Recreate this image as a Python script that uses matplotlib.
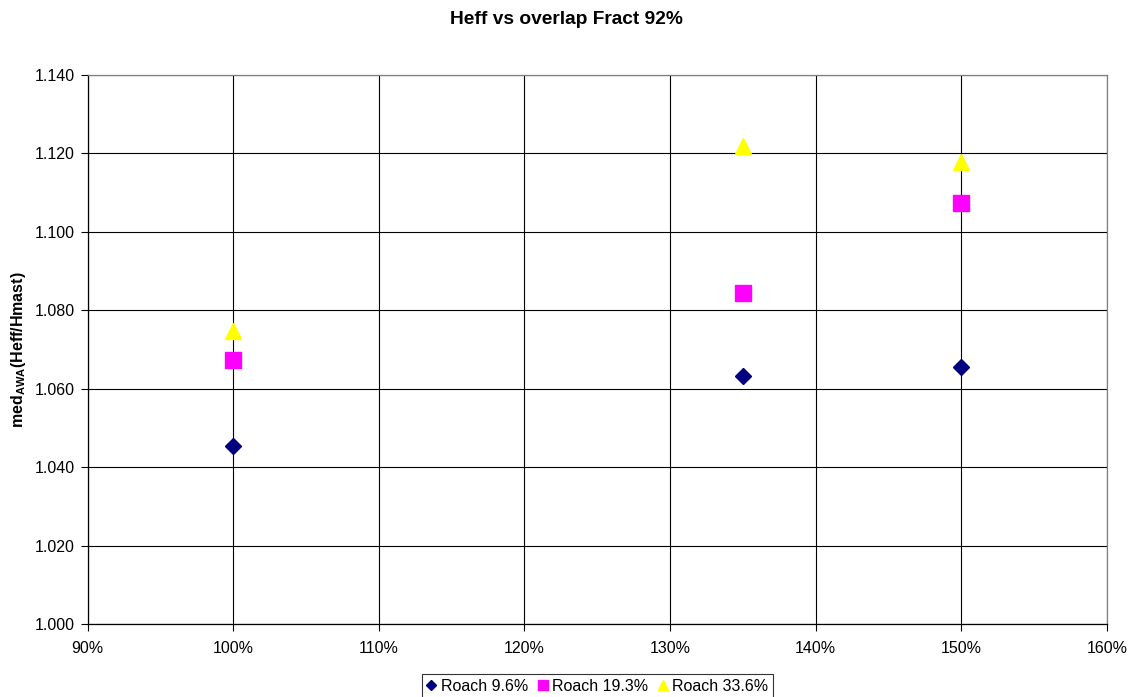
import matplotlib
matplotlib.use("Agg")
import matplotlib.pyplot as plt
from matplotlib.ticker import FuncFormatter, MultipleLocator

plt.rcParams['font.family'] = ['Liberation Sans', 'DejaVu Sans']
plt.rcParams['mathtext.fontset'] = 'custom'
plt.rcParams['mathtext.rm'] = 'Liberation Sans'
plt.rcParams['mathtext.bf'] = 'Liberation Sans:bold'
plt.rcParams['mathtext.it'] = 'Liberation Sans:italic'

# Data
x_vals = [100, 135, 150]  # percent
roach_9_6 = [1.0455, 1.0632, 1.0656]
roach_19_3 = [1.0674, 1.0843, 1.1074]
roach_33_6 = [1.0747, 1.1220, 1.1178]
series_labels = ["Roach 9.6%", "Roach 19.3%", "Roach 33.6%"]
title = "Heff vs overlap Fract 92%"

fig = plt.figure(figsize=(11.33, 6.97), dpi=100)
ax = fig.add_axes([87.5/1133, 1-624/697, (1107-87.5)/1133, (624-75)/697])

ax.plot(x_vals, roach_9_6, linestyle='none', marker='D', ms=7.8, color='#000080',
        mec='#000080', label=series_labels[0], zorder=5, clip_on=False)
ax.plot(x_vals, roach_19_3, linestyle='none', marker='s', ms=11, color='#FF00FF',
        mec='#FF00FF', label=series_labels[1], zorder=5, clip_on=False)
ax.plot(x_vals, roach_33_6, linestyle='none', marker='^', ms=11.5, color='#FFFF00',
        mec='#FFFF00', label=series_labels[2], zorder=5, clip_on=False)

ax.set_xlim(90, 160)
ax.set_ylim(1.000, 1.140)
ax.xaxis.set_major_locator(MultipleLocator(10))
ax.yaxis.set_major_locator(MultipleLocator(0.02))
ax.xaxis.set_major_formatter(FuncFormatter(lambda v, p: f"{v:.0f}%"))
ax.yaxis.set_major_formatter(FuncFormatter(lambda v, p: f"{v:.3f}"))
ax.grid(True, color='black', linewidth=0.8)
ax.set_axisbelow(True)
ax.tick_params(axis='both', direction='out', length=5, width=0.8, labelsize=11.5,
               colors='black', pad=4)
ax.tick_params(axis='x', pad=7)
for s in ['left', 'bottom']:
    ax.spines[s].set_color('black')
    ax.spines[s].set_linewidth(0.9)
for s in ['right', 'top']:
    ax.spines[s].set_color('#808080')
    ax.spines[s].set_linewidth(0.9)

ax.set_ylabel(r'$\mathbf{med}_{\mathbf{AWA}}\mathbf{(Heff/Hmast)}$', fontsize=11.5, labelpad=5)

fig.suptitle(title, fontsize=13.8, fontweight='bold', y=1-20/697, va='center')

leg = fig.legend(loc='upper center', bbox_to_anchor=(597.5/1133, 1-674/697),
                 bbox_transform=fig.transFigure, ncol=3, fontsize=11.5,
                 frameon=True, fancybox=False, markerscale=0.6,
                 handlelength=0.6, handletextpad=0.3, columnspacing=0.6,
                 borderpad=0.3, borderaxespad=0)
leg.get_frame().set_edgecolor('black')
leg.get_frame().set_linewidth(0.8)

fig.savefig("out.png", dpi=100)
